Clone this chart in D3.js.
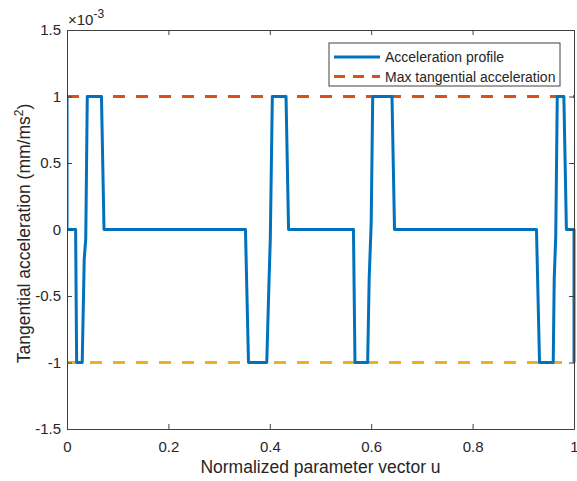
<!DOCTYPE html>
<html>
<head>
<meta charset="utf-8">
<script src="https://cdn.jsdelivr.net/npm/d3@7"></script>
<style>
  html, body { margin: 0; padding: 0; background: #fff; }
  svg { display: block; }
  text { font-family: "Liberation Sans", Arial, sans-serif; fill: #262626; }
</style>
</head>
<body>
<svg id="chart" width="577" height="481"></svg>
<script>
// ---- data (acceleration in units of 1e-3 mm/ms^2) ----
const uValues = [0, 0, 0.017, 0.019, 0.030, 0.034, 0.037, 0.040, 0.068, 0.073,
  0.352, 0.358, 0.394, 0.398, 0.401, 0.405, 0.432, 0.437,
  0.565, 0.568, 0.593, 0.596, 0.600, 0.603, 0.641, 0.646,
  0.926, 0.932, 0.959, 0.961, 0.964, 0.967, 0.980, 0.985, 1, 1];
const accValues = [1, 0, 0, -1, -1, -0.22, -0.07, 1, 1, 0,
  0, -1, -1, -0.45, -0.07, 1, 1, 0,
  0, -1, -1, -0.37, 0.05, 1, 1, 0,
  0, -1, -1, -0.37, -0.05, 1, 1, 0, 0, -1];
const maxAcc = 1;
const minAcc = -1;
const xTicks = [0, 0.2, 0.4, 0.6, 0.8, 1];
const yTicks = [-1.5, -1, -0.5, 0, 0.5, 1, 1.5];
const legendLabels = ["Acceleration profile", "Max tangential acceleration"];

// ---- layout ----
const svg = d3.select("#chart");
const L = 67, R = 574, T = 30, B = 429;
const x = d3.scaleLinear().domain([0, 1]).range([L, R]);
const y = d3.scaleLinear().domain([-1.5, 1.5]).range([B, T]);
const axisColor = "#404040";
const blue = "#0072BD", orange = "#D95319", yellow = "#EDB120";

svg.append("defs").append("clipPath").attr("id", "clip")
  .append("rect").attr("x", L).attr("y", T - 2).attr("width", R - L + 2).attr("height", B - T + 4);

const plot = svg.append("g").attr("clip-path", "url(#clip)");
plot.append("line").attr("x1", x(0)).attr("x2", x(1)).attr("y1", y(maxAcc)).attr("y2", y(maxAcc))
  .attr("stroke", orange).attr("stroke-width", 3).attr("stroke-dasharray", "12,11");
plot.append("line").attr("x1", x(0)).attr("x2", x(1)).attr("y1", y(minAcc)).attr("y2", y(minAcc))
  .attr("stroke", yellow).attr("stroke-width", 3).attr("stroke-dasharray", "12,11");

const pts = uValues.map((u, i) => [u, accValues[i]]);
plot.append("path").datum(pts)
  .attr("d", d3.line().x(d => x(d[0])).y(d => y(d[1])))
  .attr("fill", "none").attr("stroke", blue).attr("stroke-width", 3)
  .attr("stroke-linejoin", "round");

function styleAxis(g) {
  g.select(".domain").attr("stroke", axisColor).attr("stroke-width", 1);
  g.selectAll(".tick line").attr("stroke", axisColor);
  g.selectAll(".tick text").attr("font-size", 15).attr("fill", "#262626")
    .attr("font-family", "Liberation Sans, Arial, sans-serif");
}
const fmt = d => String(d);
svg.append("g").attr("transform", `translate(0,${B})`)
  .call(d3.axisBottom(x).tickValues(xTicks).tickFormat(fmt).tickSizeInner(-5).tickSizeOuter(0).tickPadding(12))
  .call(styleAxis);
svg.append("g").attr("transform", `translate(0,${T})`)
  .call(d3.axisTop(x).tickValues(xTicks).tickFormat("").tickSizeInner(-5).tickSizeOuter(0))
  .call(styleAxis);
svg.append("g").attr("transform", `translate(${L},0)`)
  .call(d3.axisLeft(y).tickValues(yTicks).tickFormat(fmt).tickSizeInner(-5).tickSizeOuter(0).tickPadding(6))
  .call(styleAxis);
svg.append("g").attr("transform", `translate(${R},0)`)
  .call(d3.axisRight(y).tickValues(yTicks).tickFormat("").tickSizeInner(-5).tickSizeOuter(0))
  .call(styleAxis);

// exponent label
const ex = svg.append("text").attr("x", L + 1).attr("y", 25).attr("font-size", 15);
ex.append("tspan").text("×10");
ex.append("tspan").attr("dy", -7).attr("font-size", 12).text("-3");

// axis titles
svg.append("text").attr("x", (L + R) / 2).attr("y", 473).attr("text-anchor", "middle")
  .attr("font-size", 17.5).text("Normalized parameter vector u");
const yl = svg.append("text").attr("transform", `translate(30,${(T + B) / 2 + 4}) rotate(-90)`)
  .attr("text-anchor", "middle").attr("font-size", 17.5);
yl.append("tspan").text("Tangential acceleration (mm/ms");
yl.append("tspan").attr("dy", -7).attr("font-size", 12).text("2");
yl.append("tspan").attr("dy", 7).text(")");

// legend
const lg = svg.append("g");
lg.append("rect").attr("x", 329).attr("y", 43).attr("width", 231).attr("height", 43)
  .attr("fill", "#fff").attr("stroke", axisColor).attr("stroke-width", 1);
const rows = [{c: blue, dash: null, y: 57}, {c: orange, dash: "11,8", y: 76.5}];
rows.forEach((r, i) => {
  lg.append("line").attr("x1", 334).attr("x2", 380).attr("y1", r.y).attr("y2", r.y)
    .attr("stroke", r.c).attr("stroke-width", 3).attr("stroke-dasharray", r.dash);
  lg.append("text").attr("x", 385).attr("y", r.y + 5).attr("font-size", 14).text(legendLabels[i]);
});
</script>
</body>
</html>
